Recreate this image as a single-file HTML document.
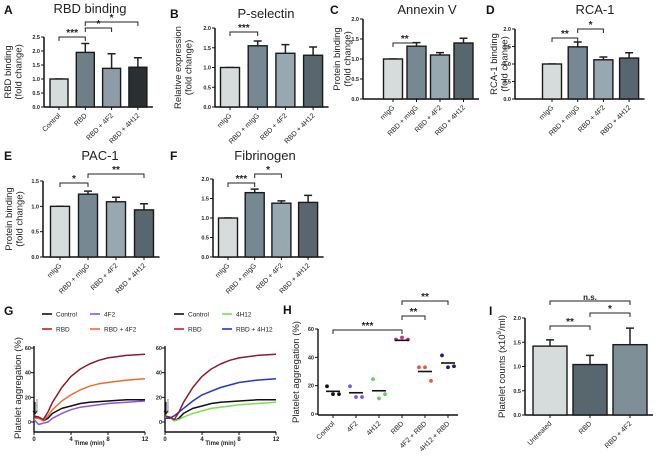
<!DOCTYPE html>
<html><head><meta charset="utf-8"><style>
html,body{margin:0;padding:0;background:#fff}
svg{display:block;font-family:"Liberation Sans",Arial,sans-serif}
</style></head><body>
<svg id="fig" width="660" height="458" viewBox="0 0 660 458" xmlns="http://www.w3.org/2000/svg"></svg>
<script>
// ---------- DATA ----------
const barCatsA = ["Control","RBD","RBD + 4F2","RBD + 4H12"];
const barValsA = [1.0,1.95,1.38,1.42];
const barErrsA = [1.0,2.27,1.90,1.76];
const barCatsMig = ["mIgG","RBD + mIgG","RBD + 4F2","RBD + 4H12"];
const barValsB = [1.0,1.55,1.36,1.31];
const barErrsB = [1.0,1.67,1.58,1.52];
const barValsC = [1.0,1.32,1.10,1.40];
const barErrsC = [1.0,1.41,1.16,1.52];
const barValsD = [1.0,1.49,1.12,1.17];
const barErrsD = [1.0,1.63,1.20,1.32];
const barValsE = [1.0,1.24,1.09,0.93];
const barErrsE = [1.0,1.30,1.18,1.05];
const barValsF = [1.0,1.65,1.38,1.40];
const barErrsF = [1.0,1.74,1.44,1.58];
const barCatsI = ["Untreated","RBD","RBD + 4F2"];
const barValsI = [1.42,1.04,1.45];
const barErrsI = [1.55,1.23,1.79];
const ticks25 = [0,0.5,1.0,1.5,2.0,2.5];
const ticks20 = [0,0.5,1.0,1.5,2.0];
const ticks15 = [0,0.5,1.0,1.5];
// G aggregation curves (time min, %)
const gTimes = [0,0.5,1,1.5,2,3,4,5,6,7,8,10,12];
const gControl = [4,4,1,3,7,11,13,15,16,16.5,17,18,18];
const gRBD = [5,4,2,8,16,28,37,43,47,50,52,54,55];
const g4F2 = [2,-2,-1,0,3,7,10,12,13,14,15,16,17];
const gRBD4F2 = [3,3,1,5,10,17,22,26,29,31,32,34,35];
const g4H12 = [4,4,1,2,4,7,9,11,12,13,14,15,16];
const gRBD4H12 = [3,3,5,8,11,17,22,25,28,30,32,34,35];
const gTicksX = [0,4,8,12];
const gTicksY = [0,20,40,60];
// H scatter
const hCats = ["Control","4F2","4H12","RBD","4F2 + RBD","4H12 + RBD"];
const hPts = [[19.6,14,14],[19.6,12,12],[24.6,11,14],[52.6,54,52.6],[33,33,23.4],[41.4,33,33.7]];
const hMeans = [16,15,16.4,52,30,36];
const hTicks = [0,20,40,60];

// ---------- helpers ----------
const NS="http://www.w3.org/2000/svg";
const svg=document.getElementById('fig');
function mk(tag,attrs,parent){const e=document.createElementNS(NS,tag);for(const k in attrs)e.setAttribute(k,attrs[k]);(parent||svg).appendChild(e);return e;}
function txt(s,attrs,parent){const e=mk('text',attrs,parent);e.textContent=s;return e;}

function bracket(g,x1,x2,y,label){
  const b=mk('g',{},g);
  
  
  mk('path',{d:`M${x1} ${y+4}V${y}H${x2}V${y+4}`,stroke:'#222',fill:'none','stroke-width':1},b);
  txt(label,{x:(x1+x2)/2,y:y-1,'text-anchor':'middle','font-size':label==='n.s.'?8:10,'font-weight':'bold',fill:'#222'},b);
}

function barPanel(p,cats,vals,errs,ticks){
  const g=mk('g',{});
  
  
  const ymax=ticks[ticks.length-1];
  const ys=v=>p.base-(v/ymax)*(p.base-p.top);
  const xs=i=>p.x0+i*p.step;
  const ax=mk('g',{},g);
  
  
  mk('line',{x1:p.ax,x2:p.ax,y1:p.base,y2:p.top,stroke:'#111','stroke-width':1.5},ax);
  ticks.forEach(t=>{
    mk('line',{x1:p.ax-3,x2:p.ax,y1:ys(t),y2:ys(t),stroke:'#111','stroke-width':1},ax);
    txt(t.toFixed(1),{x:p.ax-4,y:ys(t)+2,'text-anchor':'end','font-size':5.5,'font-weight':'bold',fill:'#222'},ax);
  });
  const xa=mk('line',{x1:p.ax,x2:xs(cats.length-1)+p.w/2+6,y1:p.base,y2:p.base,stroke:'#111','stroke-width':1.5},g);
  
  
  cats.forEach((c,i)=>{
    const cx=xs(i);
    const er=mk('path',{d:`M${cx} ${ys(vals[i])}V${ys(errs[i])}M${cx-4} ${ys(errs[i])}H${cx+4}`,stroke:'#222','stroke-width':1.5,fill:'none'},g);
    
    
    const r=mk('rect',{x:cx-p.w/2,y:ys(vals[i]),width:p.w,height:p.base-ys(vals[i]),fill:p.colors[i],stroke:'#1a1a1a','stroke-width':1.4},g);
    
    
    mk('line',{x1:cx,x2:cx,y1:p.base,y2:p.base+3,stroke:'#111'},g);
    const t=txt(c,{x:cx+2,y:p.base+9,'text-anchor':'end','font-size':7,fill:'#222',transform:`rotate(-45 ${cx+2} ${p.base+9})`},g);
    
    
  });
  const tt=txt(p.title,{x:p.tx,y:p.ty,'text-anchor':'middle','font-size':13,fill:'#222'},g);
  
  
  const L=txt(p.letter,{x:p.lx,y:p.ly,'font-size':12,'font-weight':'bold',fill:'#111'},g);
  
  
  const cy=(p.base+p.top)/2;
  const yl=mk('text',{'text-anchor':'middle','font-size':9.5,fill:'#222',transform:`translate(${p.ylx} ${cy}) rotate(-90)`},g);
  
  
  const t1=mk('tspan',{x:0,y:0},yl);t1.textContent=p.yl1;
  if(p.sup){const s=mk('tspan',{'font-size':6.5,dy:-4},yl);s.textContent=p.sup;const s2=mk('tspan',{dy:4},yl);s2.textContent=p.yl1b;}
  if(p.yl2){const t2=mk('tspan',{x:0,y:10.5},yl);t2.textContent=p.yl2;}
  p.br.forEach(b=>bracket(g,xs(b[0]),xs(b[1]),b[2],b[3]));
}

const cA=['#d6dcdc','#6f7f87','#8d9ca6','#2a2f32'];
const cM=['#d6dcdc','#768891','#98a8b0','#58666d'];
barPanel({name:'panel-a-rbd-binding',ax:44,base:107,top:37,x0:59,step:26.3,w:18,colors:cA,title:'RBD binding',tx:90,ty:13,letter:'A',lx:4,ly:14,ylx:11,yl1:'RBD binding',yl2:'(fold change)',br:[[0,1,37,'***'],[1,2,28,'*'],[1,3,22,'*']]},barCatsA,barValsA,barErrsA,ticks25);
barPanel({name:'panel-b-p-selectin',ax:215,base:107,top:28,x0:230,step:27.7,w:19,colors:cM,title:'P-selectin',tx:266,ty:18,letter:'B',lx:170,ly:18,ylx:181,yl1:'Relative expression',yl2:'(fold change)',br:[[0,1,32,'***']]},barCatsMig,barValsB,barErrsB,ticks20);
barPanel({name:'panel-c-annexin-v',ax:363,base:99,top:19,x0:393,step:23.5,w:19,colors:cM,title:'Annexin V',tx:427,ty:14,letter:'C',lx:330,ly:14,ylx:340,yl1:'Protein binding',yl2:'(fold change)',br:[[0,1,43,'**']]},barCatsMig,barValsC,barErrsC,ticks20);
barPanel({name:'panel-d-rca-1',ax:515,base:99,top:29,x0:552,step:25.7,w:19,colors:cM,title:'RCA-1',tx:595,ty:14,letter:'D',lx:486,ly:14,ylx:497,yl1:'RCA-1 binding',yl2:'(fold change)',br:[[0,1,38,'**'],[1,2,29,'*']]},barCatsMig,barValsD,barErrsD,ticks20);
barPanel({name:'panel-e-pac-1',ax:43,base:257,top:181,x0:60,step:28,w:19,colors:cM,title:'PAC-1',tx:100,ty:160,letter:'E',lx:4,ly:160,ylx:12,yl1:'Protein binding',yl2:'(fold change)',br:[[0,1,183,'*'],[1,3,174,'**']]},barCatsMig,barValsE,barErrsE,ticks15);
barPanel({name:'panel-f-fibrinogen',ax:213,base:257,top:179,x0:228,step:26.7,w:19,colors:cM,title:'Fibrinogen',tx:265,ty:160,letter:'F',lx:170,ly:160,ylx:0,yl1:'',yl2:'',br:[[0,1,183,'***'],[1,2,174,'*']]},barCatsMig,barValsF,barErrsF,ticks20);
barPanel({name:'panel-i-platelet-counts',ax:525,base:415,top:318,x0:550,step:40,w:34,colors:['#d6dcdc','#58666d','#7f8f97'],title:'',tx:0,ty:0,letter:'I',lx:489,ly:315,ylx:505,yl1:'Platelet counts (x10',sup:'9',yl1b:'/ml)',yl2:'',br:[[0,1,326,'**'],[1,2,313,'*'],[0,2,301,'n.s.']]},barCatsI,barValsI,barErrsI,ticks20);

// ---------- G ----------
function aggPanel(name,x0,x1,series){
  const g=mk('g',{});
  
  
  const y0=422,yPer=(422-348)/60;
  const xs=t=>x0+t/12*(x1-x0), ys=v=>y0-v*yPer;
  mk('line',{x1:x0,x2:x0,y1:432,y2:346,stroke:'#111','stroke-width':1.4},g);
  mk('line',{x1:x0,x2:x1,y1:432,y2:432,stroke:'#111','stroke-width':1.4},g);
  gTicksY.forEach(t=>{mk('line',{x1:x0-3,x2:x0,y1:ys(t),y2:ys(t),stroke:'#111'},g);
    txt(String(t),{x:x0-3,y:ys(t)+2,'text-anchor':'end','font-size':5.5,'font-weight':'bold',fill:'#222'},g);});
  gTicksX.forEach(t=>{mk('line',{x1:xs(t),x2:xs(t),y1:432,y2:435,stroke:'#111'},g);
    txt(String(t),{x:xs(t),y:441,'text-anchor':'middle','font-size':6,'font-weight':'bold',fill:'#222'},g);});
  txt('Time (min)',{x:(x0+x1)/2,y:445,'text-anchor':'middle','font-size':6,'font-weight':'bold',fill:'#222'},g);
  series.forEach(s=>{
    const d=gTimes.map((t,i)=>(i?'L':'M')+xs(t).toFixed(1)+' '+ys(s[0][i]).toFixed(1)).join('');
    const p=mk('path',{d:d,stroke:s[1],fill:'none','stroke-width':1.5,'stroke-linejoin':'round'},g);
    
    
  });
  mk('path',{d:`M${x0+1} 402V414M${x0-1} 411L${x0+1} 414L${x0+3} 411`,stroke:'#111',fill:'none','stroke-width':1},g);
  txt('Thrombin',{x:0,y:0,'font-size':3.5,fill:'#555',transform:`translate(${x0+4} 414) rotate(-90)`},g);
}
aggPanel('panel-g-left',34,145,[[gControl,'#111','control'],[g4F2,'#8a55e8','4f2'],[gRBD4F2,'#f26a30','rbd-4f2'],[gRBD,'#8e1b2c','rbd']]);
aggPanel('panel-g-right',165,276,[[gControl,'#111','control'],[g4H12,'#7ce050','4h12'],[gRBD4H12,'#2236d0','rbd-4h12'],[gRBD,'#8e1b2c','rbd']]);
txt('G',{x:4,y:315,'font-size':12,'font-weight':'bold',fill:'#111'});
const gyl=txt('Platelet aggregation (%)',{'text-anchor':'middle','font-size':9.5,fill:'#222',transform:'translate(21 388) rotate(-90)'});

function legend(x,y,color,label){
  const g=mk('g',{});
  
  
  mk('line',{x1:x,x2:x+10,y1:y,y2:y,stroke:color,'stroke-width':1.6},g);
  txt(label,{x:x+14,y:y+2.5,'font-size':6.5,fill:'#222'},g);
}
legend(42,314,'#111','Control');legend(90,314,'#8a55e8','4F2');
legend(42,329,'#c0202a','RBD');legend(90,329,'#f26a30','RBD + 4F2');
legend(174,314,'#111','Control');legend(222,314,'#7ce050','4H12');
legend(174,329,'#c0202a','RBD');legend(222,329,'#2236d0','RBD + 4H12');

// ---------- H ----------
(function(){
  const g=mk('g',{});
  
  
  const ax=318,base=414,top=329;
  const ys=v=>base-v/60*(base-top), xs=i=>333+i*23;
  const cols=['#111','#7a55e8','#60d060','#d0307a','#f05535','#1c1c72'];
  mk('line',{x1:ax,x2:ax,y1:base+1,y2:top,stroke:'#111','stroke-width':1.4},g);
  mk('line',{x1:ax,x2:458,y1:base+1,y2:base+1,stroke:'#111','stroke-width':1.4},g);
  hTicks.forEach(t=>{mk('line',{x1:ax-3,x2:ax,y1:ys(t),y2:ys(t),stroke:'#111'},g);
    txt(String(t),{x:ax-4,y:ys(t)+2,'text-anchor':'end','font-size':5.5,'font-weight':'bold',fill:'#222'},g);});
  hCats.forEach((c,i)=>{
    const cx=xs(i);
    mk('line',{x1:cx,x2:cx,y1:base+1,y2:base+4,stroke:'#111'},g);
    const t=txt(c,{x:cx+2,y:base+10,'text-anchor':'end','font-size':7,fill:'#222',transform:`rotate(-45 ${cx+2} ${base+10})`},g);
    
    hPts[i].forEach((v,j)=>{
      const d=mk('circle',{cx:cx-6+j*6,cy:ys(v),r:1.9,fill:cols[i]},g);
      
    });
    const m=mk('line',{x1:cx-7,x2:cx+7,y1:ys(hMeans[i]),y2:ys(hMeans[i]),stroke:'#111','stroke-width':1.6},g);
    
  });
  bracket(g,xs(0),xs(3),330,'***');bracket(g,xs(3),xs(4),316,'**');bracket(g,xs(3),xs(5),301,'**');
  txt('H',{x:283,y:314,'font-size':12,'font-weight':'bold',fill:'#111'},g);
  const yl=txt('Platelet aggregation (%)',{'text-anchor':'middle','font-size':9.5,fill:'#222',transform:'translate(299 372) rotate(-90)'},g);
  
})();
</script>
</body></html>
